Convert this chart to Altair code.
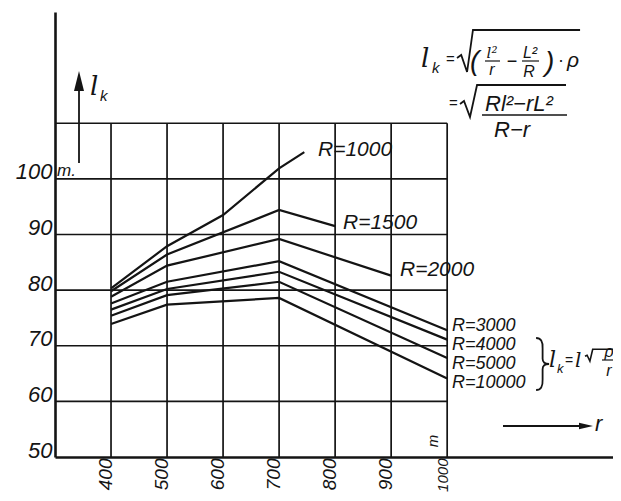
import altair as alt
import pandas as pd

# ---------------- data ----------------
R_NAMES = ["R=1000", "R=1500", "R=2000", "R=3000", "R=4000", "R=5000", "R=10000"]
R1000_r = [400, 500, 600, 700, 745]
R1000_l = [80.3, 87.9, 93.5, 101.9, 104.8]
R1500_r = [400, 500, 700, 800]
R1500_l = [79.8, 86.4, 94.4, 91.5]
R2000_r = [400, 500, 700, 900]
R2000_l = [78.8, 84.4, 89.2, 82.6]
R3000_r = [400, 500, 700, 1000]
R3000_l = [77.6, 81.5, 85.2, 72.8]
R4000_r = [400, 500, 700, 1000]
R4000_l = [76.5, 80.2, 83.3, 71.1]
R5000_r = [400, 500, 700, 1000]
R5000_l = [75.4, 79.1, 81.5, 67.8]
R10000_r = [400, 500, 700, 1000]
R10000_l = [73.9, 77.4, 78.6, 64.1]

X_TICKS = [400, 500, 600, 700, 800, 900, 1000]
Y_TICKS = [50, 60, 70, 80, 90, 100]
Y_GRID = [60, 70, 80, 90, 100, 110]

series = [
    (R_NAMES[0], R1000_r, R1000_l),
    (R_NAMES[1], R1500_r, R1500_l),
    (R_NAMES[2], R2000_r, R2000_l),
    (R_NAMES[3], R3000_r, R3000_l),
    (R_NAMES[4], R4000_r, R4000_l),
    (R_NAMES[5], R5000_r, R5000_l),
    (R_NAMES[6], R10000_r, R10000_l),
]
rows = []
for name, rs, ls in series:
    for r, l in zip(rs, ls):
        rows.append({"R": name, "r": r, "lk": l})
df = pd.DataFrame(rows)

# ---------------- styling ----------------
FONT = "Liberation Sans"
SERIF = "DejaVu Serif"
INK = "#141414"
OX, OY = 55, 12          # page position of the plot origin


def px(X):
    return X - OX


def py(Y):
    return Y - OY


xscale = alt.Scale(domain=[300, 1296], nice=False, zero=False)
yscale = alt.Scale(domain=[50, 130], nice=False, zero=False)

xaxis = alt.Axis(values=X_TICKS, format="d", labelAngle=270,
                 labelAlign="right",
                 labelBaseline="alphabetic", labelPadding=1, ticks=False,
                 grid=False, domainColor=INK, domainWidth=2.6,
                 labelFont=FONT,
                 labelFontSize={"condition": {"test": "datum.value >= 1000",
                                              "value": 15},
                                "value": 19},
                 labelFontStyle="italic",
                 labelColor=INK, title=None, labelOverlap=False,
                 labelFlush=False)
yaxis = alt.Axis(values=Y_TICKS, format="d", ticks=False, grid=False,
                 domainColor=INK,
                 domainWidth=2.6, labelFont=FONT, labelFontSize=22,
                 labelFontStyle="italic", labelColor=INK, labelPadding=3,
                 labelBaseline="alphabetic", title=None, labelFlush=False,
                 labelOverlap=False)

one = pd.DataFrame({"_": [0]})


def txt(s, X, Y, size, align="left", baseline="alphabetic", angle=0,
        style="italic", weight="normal", font=FONT):
    return alt.Chart(one).mark_text(
        text=s, fontSize=size, font=font, fontStyle=style, fontWeight=weight,
        align=align, baseline=baseline, angle=angle, color=INK
    ).encode(x=alt.value(px(X)), y=alt.value(py(Y)))


def prule(X1, Y1, X2, Y2, w=1.6):
    return alt.Chart(one).mark_rule(color=INK, strokeWidth=w).encode(
        x=alt.value(px(X1)), x2=alt.value(px(X2)),
        y=alt.value(py(Y1)), y2=alt.value(py(Y2)))


def pshape(path, X, Y, size, filled=True, w=1.6):
    return alt.Chart(one).mark_point(
        shape=path, size=size, filled=filled, color=INK, opacity=1,
        strokeWidth=w
    ).encode(x=alt.value(px(X)), y=alt.value(py(Y)))


# ---------------- grid ----------------
hgrid = alt.Chart(pd.DataFrame({"v": Y_GRID})).mark_rule(
    color=INK, strokeWidth=1.7).encode(
    y=alt.Y("v:Q", scale=yscale, axis=yaxis),
    x=alt.XDatum(300, scale=xscale, axis=xaxis),
    x2=alt.X2Datum(1000))
vgrid = alt.Chart(pd.DataFrame({"v": X_TICKS})).mark_rule(
    color=INK, strokeWidth=1.7).encode(
    x=alt.X("v:Q", scale=xscale, axis=xaxis),
    y=alt.YDatum(50, scale=yscale, axis=yaxis),
    y2=alt.Y2Datum(110))

lines = alt.Chart(df).mark_line(color=INK, strokeWidth=2.2).encode(
    x=alt.X("r:Q", scale=xscale, axis=xaxis),
    y=alt.Y("lk:Q", scale=yscale, axis=yaxis),
    detail="R:N")

# ---------------- annotations ----------------
ann = []
# curve labels
ann.append(txt(R_NAMES[0], 318, 156, 21))
ann.append(txt(R_NAMES[1], 343, 229, 21))
ann.append(txt(R_NAMES[2], 400, 276, 21))
ann.append(txt(R_NAMES[3], 452, 331, 18))
ann.append(txt(R_NAMES[4], 452, 350, 18))
ann.append(txt(R_NAMES[5], 452, 369, 18))
ann.append(txt(R_NAMES[6], 452, 388, 18))

# l_k axis arrow
ann.append(prule(79, 88, 79, 163, 1.8))
ann.append(pshape("M-0.5,1L0,-1L0.5,1Z", 79, 81, 400))
ann.append(txt("l", 90, 95, 26, font=SERIF))
ann.append(txt("k", 100, 101, 15))
ann.append(txt("m.", 57, 176, 17))

# r arrow
ann.append(prule(503, 426, 582, 426, 2))
ann.append(pshape("M-1,-0.45L1,0L-1,0.45Z", 586, 426, 196))
ann.append(txt("r", 595, 431, 22))
ann.append(txt("m", 438, 441, 15, align="center", angle=270))

# formula 1
ann.append(txt("l", 421, 67, 26, font=SERIF))
ann.append(txt("k", 432, 73, 15))
ann.append(txt("=", 446, 64, 15, style="normal"))
ann.append(pshape("M-1,0.33L-0.8,0.19L-0.52,1L-0.24,-1L4.86,-1", 478, 51,
                  1764, filled=False, w=1.8))
ann.append(txt("(", 470, 70, 28))
ann.append(txt("l²", 492, 58, 15, align="center", font=SERIF))
ann.append(prule(485, 61, 500, 61, 1.2))
ann.append(txt("r", 492, 75, 16, align="center"))
ann.append(txt("−", 512, 67, 18, align="center", style="normal"))
ann.append(txt("L²", 530, 58, 16, align="center"))
ann.append(prule(522, 61, 539, 61, 1.2))
ann.append(txt("R", 529, 77, 16, align="center"))
ann.append(txt(")", 545, 71, 28))
ann.append(txt("·", 558, 66, 18, style="normal"))
ann.append(txt("ρ", 573, 67, 21, align="center"))

# formula 2
ann.append(txt("=", 449, 108, 15, style="normal"))
ann.append(pshape("M-1.125,1.19L-0.875,1L-0.5,2L-0.06,0L5.5,0", 478, 85,
                  1024, filled=False, w=1.8))
ann.append(txt("Rl²−rL²", 485, 111, 22))
ann.append(prule(482, 115, 567, 115, 1.6))
ann.append(txt("R−r", 494, 137, 22))

# brace formula
ann.append(pshape(
    "M-0.15,-1Q0.12,-1 0.1,-0.6L0.1,-0.2Q0.1,0 0.35,0Q0.1,0 0.1,0.2"
    "L0.1,0.6Q0.12,1 -0.15,1", 540, 364, 2704, filled=False, w=1.8))
ann.append(txt("l", 549, 367, 22, font=SERIF))
ann.append(txt("k", 557, 373, 13))
ann.append(txt("=", 565, 365, 14, style="normal"))
ann.append(txt("l", 575, 367, 20, font=SERIF))
ann.append(pshape("M-1,0.9L-0.7,0.75L-0.3,1.6L0.1,-0.1L3,-0.1", 592, 350,
                  196, filled=False, w=1.6))
ann.append(txt("ρ", 609, 357, 16, align="center"))
ann.append(prule(602, 360, 621, 360, 1.2))
ann.append(txt("r", 609, 376, 16, align="center"))

chart = alt.layer(hgrid, vgrid, lines, *ann).properties(
    width=558, height=445,
    autosize=alt.AutoSizeParams(type="none"),
    padding={"left": 47, "top": 4, "right": 0, "bottom": 36},
    background="white",
).configure_view(strokeWidth=0)

chart.save("out.html", embed_options={"renderer": "svg", "actions": False})
